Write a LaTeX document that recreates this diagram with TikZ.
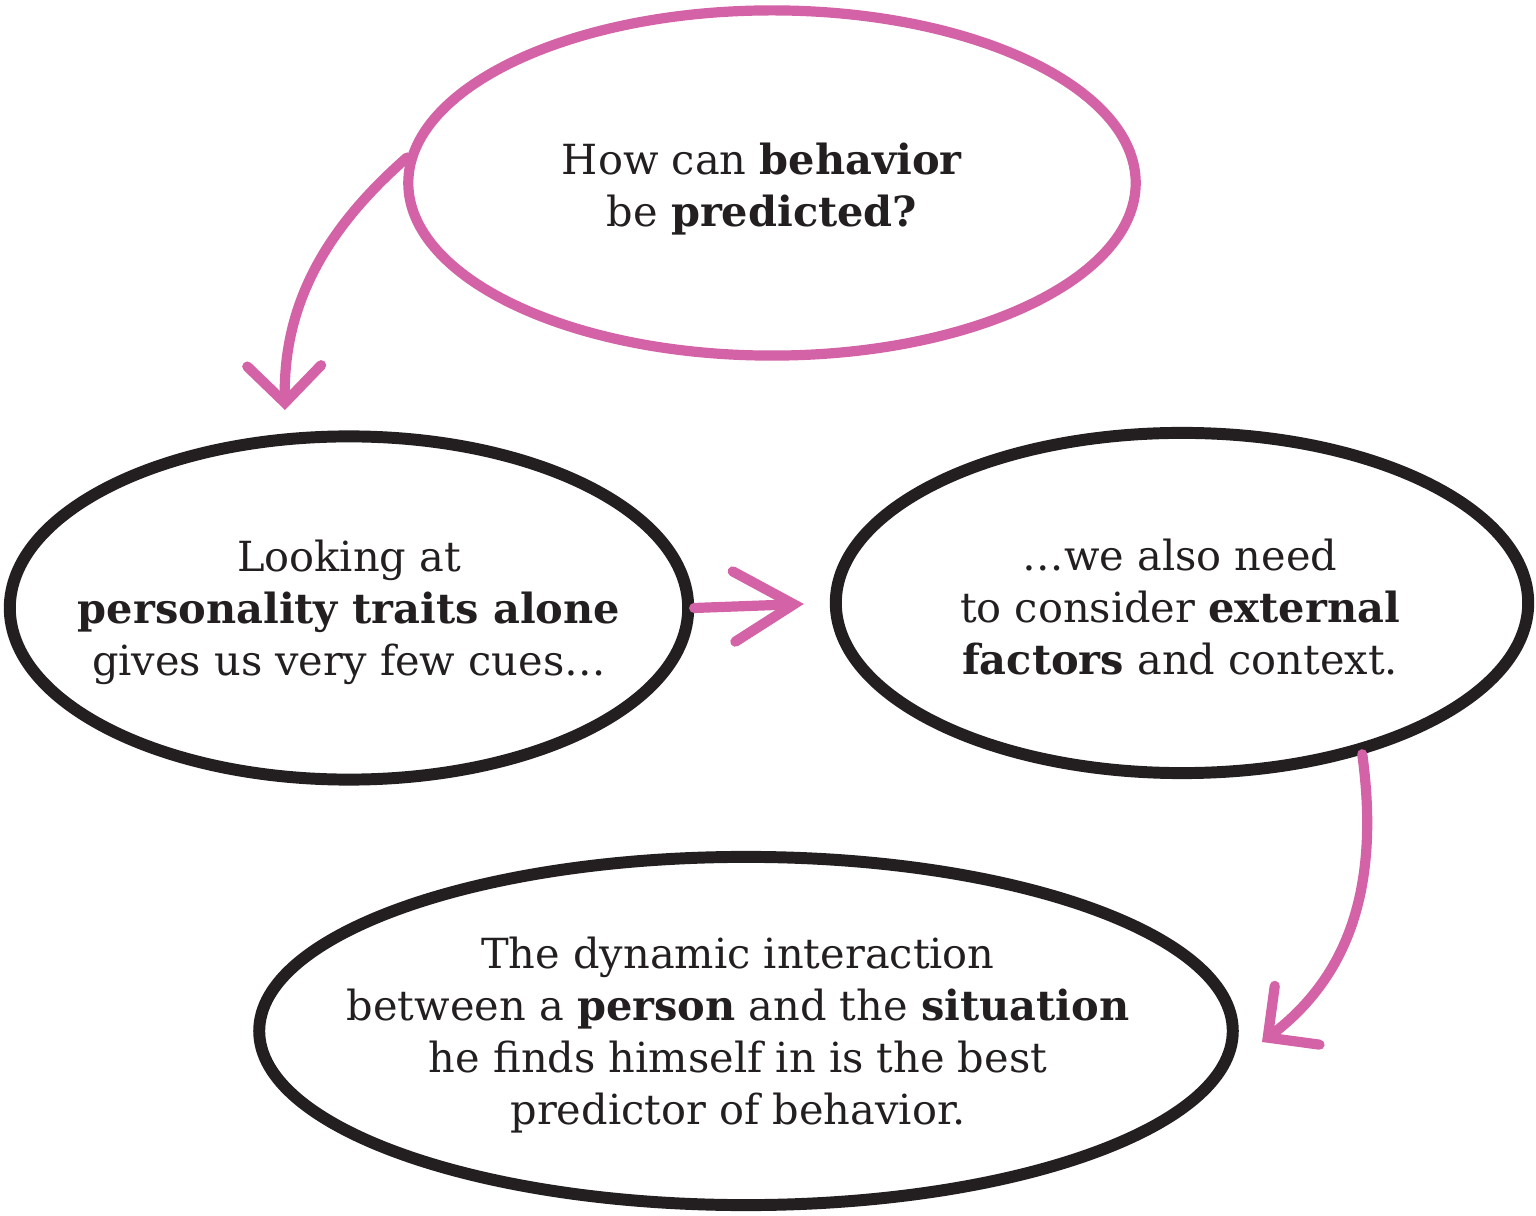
\documentclass[tikz,border=0pt]{standalone}
\usepackage{fontspec}
\setmainfont{DejaVu Serif}
\usetikzlibrary{arrows.meta,shapes.geometric}
\definecolor{pinkline}{HTML}{D462A6}
\definecolor{inkblack}{HTML}{231F20}

\begin{document}
\begin{tikzpicture}[x=0.01cm,y=-0.01cm,
  bubble/.style={ellipse,draw=inkblack,line width=3.4pt,inner sep=0pt},
  pinkbubble/.style={bubble,draw=pinkline,line width=2.9pt},
  words/.style={align=center,inner sep=0pt,text=inkblack,
    font=\fontsize{11.8}{14.8}\selectfont},
  hint/.style={draw=pinkline,line width=2.9pt,line cap=round,
    -{Straight Barb[length=10.5pt,width=21pt,line cap=round]}}]
\useasboundingbox (0,0) rectangle (1536,1216);

\node[pinkbubble,minimum width=7.27cm,minimum height=3.45cm] (q) at (772,183) {};
\node[words] (qText) at (762,189) {How can \textbf{behavior}\\be \textbf{predicted?}};

\node[bubble,minimum width=6.78cm,minimum height=3.43cm] (traits) at (349,608) {};
\node[words] (traitsText) at (349,612) {Looking at\\\textbf{personality traits alone}\\gives us very few cues\dots};

\node[bubble,minimum width=6.92cm,minimum height=3.40cm] (context) at (1182,603) {};
\node[words] (contextText) at (1180,607) {\dots we also need\\to consider \textbf{external}\\\textbf{factors} and context.};

\node[bubble,minimum width=9.73cm,minimum height=3.48cm] (answer) at (746,1031) {};
\node[words] (answerText) at (738,1035) {The dynamic interaction\\between a \textbf{person} and the \textbf{situation}\\he finds himself in is the best\\predictor of behavior.};

\coordinate (tip1) at (285,410);
\coordinate (tip3) at (1262,1042);

\draw[hint] (q.176) .. controls (330,225) and (283,300) .. (tip1);
\draw[hint,-{Straight Barb[length=17pt,width=20pt,line cap=round]},shorten >=0.26cm] (traits.east) -- (context.west);
\draw[hint] (context.-40) .. controls (1380,885) and (1350,975) .. (tip3);

\end{tikzpicture}
\end{document}
